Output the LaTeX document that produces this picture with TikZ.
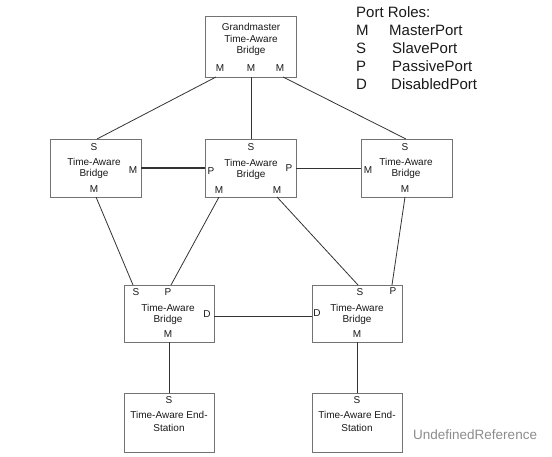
\documentclass[tikz,border=0pt]{standalone}
\usepackage{fontspec}
\setmainfont{Liberation Sans}
\begin{document}
\begin{tikzpicture}[x=1pt,y=-1pt,
  bbox/.style={draw=black!55, line width=0.8pt, rectangle, minimum width=91pt, minimum height=58pt, inner sep=0},
  lbl/.style={font=\fontsize{10}{11}\selectfont, inner sep=0, text=black!90},
  leg/.style={font=\fontsize{15}{17}\selectfont, inner sep=0, anchor=west, text=black!90},
  conn/.style={draw=black!80, line width=0.8pt}]
\useasboundingbox (0,0) rectangle (552,457);
% boxes
\node[bbox, minimum height=61pt] (gm) at (251,46.5) {};
\node[bbox] (lb) at (95.5,168) {};
\node[bbox] (cb) at (250.5,168) {};
\node[bbox] (rb) at (406.5,168) {};
\node[bbox, minimum height=57pt, minimum width=90pt] (llb) at (169,313.5) {};
\node[bbox, minimum height=57pt, minimum width=90pt] (lrb) at (357,313.5) {};
\node[bbox, minimum height=59pt, minimum width=90pt] (les) at (169,422.5) {};
\node[bbox, minimum height=59pt, minimum width=90pt] (res) at (357.5,422.5) {};
% grandmaster text
\node[lbl] (gmt1) at (251,27) {Grandmaster};
\node[lbl] (gmt2) at (251,39) {Time-Aware};
\node[lbl] (gmt3) at (251,51) {Bridge};
\node[lbl] (gmm1) at (220,68) {M};
\node[lbl] (gmm2) at (251,68) {M};
\node[lbl] (gmm3) at (280,68) {M};
% left box
\node[lbl] (lbs) at (94,147) {S};
\node[lbl] (lbt1) at (94,162) {Time-Aware};
\node[lbl] (lbt2) at (94,174) {Bridge};
\node[lbl] (lbmr) at (133,170) {M};
\node[lbl] (lbmb) at (94,189) {M};
% center box
\node[lbl] (cbs) at (251,147) {S};
\node[lbl] (cbt1) at (251,163) {Time-Aware};
\node[lbl] (cbt2) at (251,175) {Bridge};
\node[lbl] (cbpl) at (211,171) {P};
\node[lbl] (cbpr) at (289,168) {P};
\node[lbl] (cbm1) at (219,190) {M};
\node[lbl] (cbm2) at (277,190) {M};
% right box
\node[lbl] (rbs) at (405,147) {S};
\node[lbl] (rbt1) at (406,162) {Time-Aware};
\node[lbl] (rbt2) at (406,174) {Bridge};
\node[lbl] (rbml) at (368,170) {M};
\node[lbl] (rbmb) at (405,189) {M};
% lower left
\node[lbl] (llbs) at (136,292) {S};
\node[lbl] (llbp) at (168,292) {P};
\node[lbl] (llbt1) at (168,308) {Time-Aware};
\node[lbl] (llbt2) at (168,320) {Bridge};
\node[lbl] (llbd) at (207,314) {D};
\node[lbl] (llbm) at (168,334) {M};
% lower right
\node[lbl] (lrbs) at (360,292) {S};
\node[lbl] (lrbp) at (393,291) {P};
\node[lbl] (lrbt1) at (357,308) {Time-Aware};
\node[lbl] (lrbt2) at (357,320) {Bridge};
\node[lbl] (lrbd) at (317,313) {D};
\node[lbl] (lrbm) at (357,334) {M};
% end stations
\node[lbl] (less) at (169,400) {S};
\node[lbl] (lest1) at (169,415) {Time-Aware End-};
\node[lbl] (lest2) at (169,428) {Station};
\node[lbl] (ress) at (357,400) {S};
\node[lbl] (rest1) at (357,415) {Time-Aware End-};
\node[lbl] (rest2) at (357,428) {Station};
% connector end points
\coordinate (g1) at (216,77);  \coordinate (l1) at (97,139);
\coordinate (g2) at (251,77);  \coordinate (c1) at (251,139);
\coordinate (g3) at (283,77);  \coordinate (r1) at (406,139);
\coordinate (l2) at (141,168); \coordinate (c2) at (205,168);
\coordinate (c3) at (296,168); \coordinate (r2) at (361,168);
\coordinate (l3) at (96,197);  \coordinate (ll1) at (133,285);
\coordinate (c4) at (219,197); \coordinate (ll2) at (171,285);
\coordinate (c5) at (277,197); \coordinate (lr1) at (358,285);
\coordinate (r3) at (405,197); \coordinate (lr2) at (392,285);
\coordinate (ll3) at (214,316); \coordinate (lr3) at (312,316);
\coordinate (ll4) at (169,342); \coordinate (le1) at (169,393);
\coordinate (lr4) at (357,342); \coordinate (re1) at (357,393);
% connectors
\draw[conn] (g1) -- (l1);
\draw[conn] (g2) -- (c1);
\draw[conn] (g3) -- (r1);
\draw[conn, line width=1.6pt] (l2) -- (c2);
\draw[conn] (c3) -- (r2);
\draw[conn] (l3) -- (ll1);
\draw[conn] (c4) -- (ll2);
\draw[conn] (c5) -- (lr1);
\draw[conn] (r3) -- (lr2);
\draw[conn] (ll3) -- (lr3);
\draw[conn] (ll4) -- (le1);
\draw[conn] (lr4) -- (re1);
% legend
\node[leg] (pr) at (356,12) {Port Roles:};
\node[leg] (lm) at (356,30) {M};
\node[leg] (lmt) at (389,30) {MasterPort};
\node[leg] (ls) at (356,48) {S};
\node[leg] (lst) at (392,48) {SlavePort};
\node[leg] (lp) at (356,66) {P};
\node[leg] (lpt) at (392,66) {PassivePort};
\node[leg] (ld) at (356,84) {D};
\node[leg] (ldt) at (391,84) {DisabledPort};
% watermark
\node[font=\fontsize{13.5}{15}\selectfont, text=black!45, anchor=west, inner sep=0] (wm) at (413,435) {UndefinedReference};
\end{tikzpicture}
\end{document}
